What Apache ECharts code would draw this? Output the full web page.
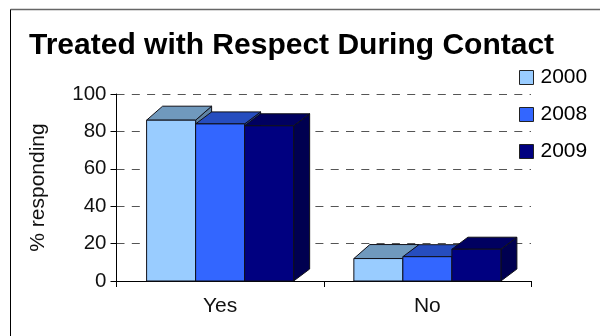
<!DOCTYPE html>
<html><head><meta charset="utf-8">
<style>html,body{margin:0;padding:0;background:#fff}#c{width:600px;height:336px}</style>
<script src="https://cdn.jsdelivr.net/npm/echarts@6/dist/echarts.min.js"></script>
</head><body><div id="c"></div>
<script>
const categories = ['Yes', 'No'];
const years = ['2000', '2008', '2009'];
const values2000 = [86, 12];
const values2008 = [84, 13];
const values2009 = [83, 17];
const yTicks = [0, 20, 40, 60, 80, 100];

const fronts = ['#99ccff', '#3366ff', '#000080'];
const tops = ['#7099bd', '#264dbf', '#000060'];
const sides = ['#5f83a3', '#1f3f9e', '#000050'];
const DX = 16, DYS = [14, 12, 12];

function render(si) {
  return function (params, api) {
    const cat = api.value(0), v = api.value(1);
    const center = api.coord([cat, 0]);
    const top = api.coord([cat, v]);
    const w = api.size([1, 0])[0] * 0.2365;
    const DY = DYS[si];
    const x0 = center[0] + (si - 1.5) * w, x1 = x0 + w, y0 = center[1], y1 = top[1];
    const stroke = { stroke: '#101018', lineWidth: 1, lineJoin: 'round' };
    const poly = (pts, fill) => ({ type: 'polygon', shape: { points: pts }, style: Object.assign({ fill }, stroke) });
    return { type: 'group', children: [
      poly([[x1, y0], [x1 + DX, y0 - DY], [x1 + DX, y1 - DY], [x1, y1]], sides[si]),
      poly([[x0, y1], [x0 + DX, y1 - DY], [x1 + DX, y1 - DY], [x1, y1]], tops[si]),
      poly([[x0, y0], [x1, y0], [x1, y1], [x0, y1]], fronts[si])
    ] };
  };
}
const seriesValues = [values2000, values2008, values2009];
const font = 'Liberation Sans, Arial, sans-serif';
const chart = echarts.init(document.getElementById('c'), null, { renderer: 'canvas' });
chart.setOption({
  animation: false,
  backgroundColor: '#fff',
  title: { text: 'Treated with Respect During Contact', left: 29, top: 31, padding: 0,
    textStyle: { fontFamily: font, fontSize: 30, fontWeight: 'bold', color: '#000' } },
  legend: { orient: 'vertical', left: 519, top: 67, padding: 0, itemWidth: 14, itemHeight: 14, itemGap: 16,
    data: years, icon: 'rect', textStyle: { fontFamily: font, fontSize: 21, color: '#000', padding: [0, 0, 0, 2] },
    itemStyle: { borderColor: '#222', borderWidth: 1 }, selectedMode: false },
  grid: { left: 116.5, right: 69, top: 94, bottom: 55, containLabel: false },
  xAxis: { type: 'category', data: categories, boundaryGap: true,
    axisLine: { lineStyle: { color: '#000', width: 1 } },
    axisTick: { show: true, length: 6, alignWithLabel: false, lineStyle: { color: '#000' } },
    axisLabel: { fontFamily: font, fontSize: 21, color: '#111', margin: 15 } },
  yAxis: { type: 'value', min: 0, max: 100, interval: 20,
    name: '% responding', nameLocation: 'middle', nameGap: 68, nameRotate: 90,
    nameTextStyle: { fontFamily: font, fontSize: 21, color: '#111' },
    axisLine: { show: true, lineStyle: { color: '#000', width: 1 } },
    axisTick: { show: true, length: 6, lineStyle: { color: '#000' } },
    axisLabel: { fontFamily: font, fontSize: 20.5, color: '#111', margin: 10,
      formatter: v => yTicks.includes(v) ? String(v) : '' },
    splitLine: { show: true, lineStyle: { color: '#555', width: 1.2, type: [8, 7.3] } } },
  graphic: [
    { type: 'line', silent: true, shape: { x1: 10.5, y1: 9.5, x2: 600, y2: 9.5 }, style: { stroke: '#666', lineWidth: 1.5 } },
    { type: 'line', silent: true, shape: { x1: 10.5, y1: 9.5, x2: 10.5, y2: 336 }, style: { stroke: '#000', lineWidth: 1 } }
  ],
  series: years.map((y, i) => ({
    type: 'custom', name: y, coordinateSystem: 'cartesian2d',
    itemStyle: { color: fronts[i] },
    encode: { x: 0, y: 1 },
    renderItem: render(i),
    data: seriesValues[i].map((v, c) => [c, v]),
    clip: false
  }))
});
</script></body></html>
